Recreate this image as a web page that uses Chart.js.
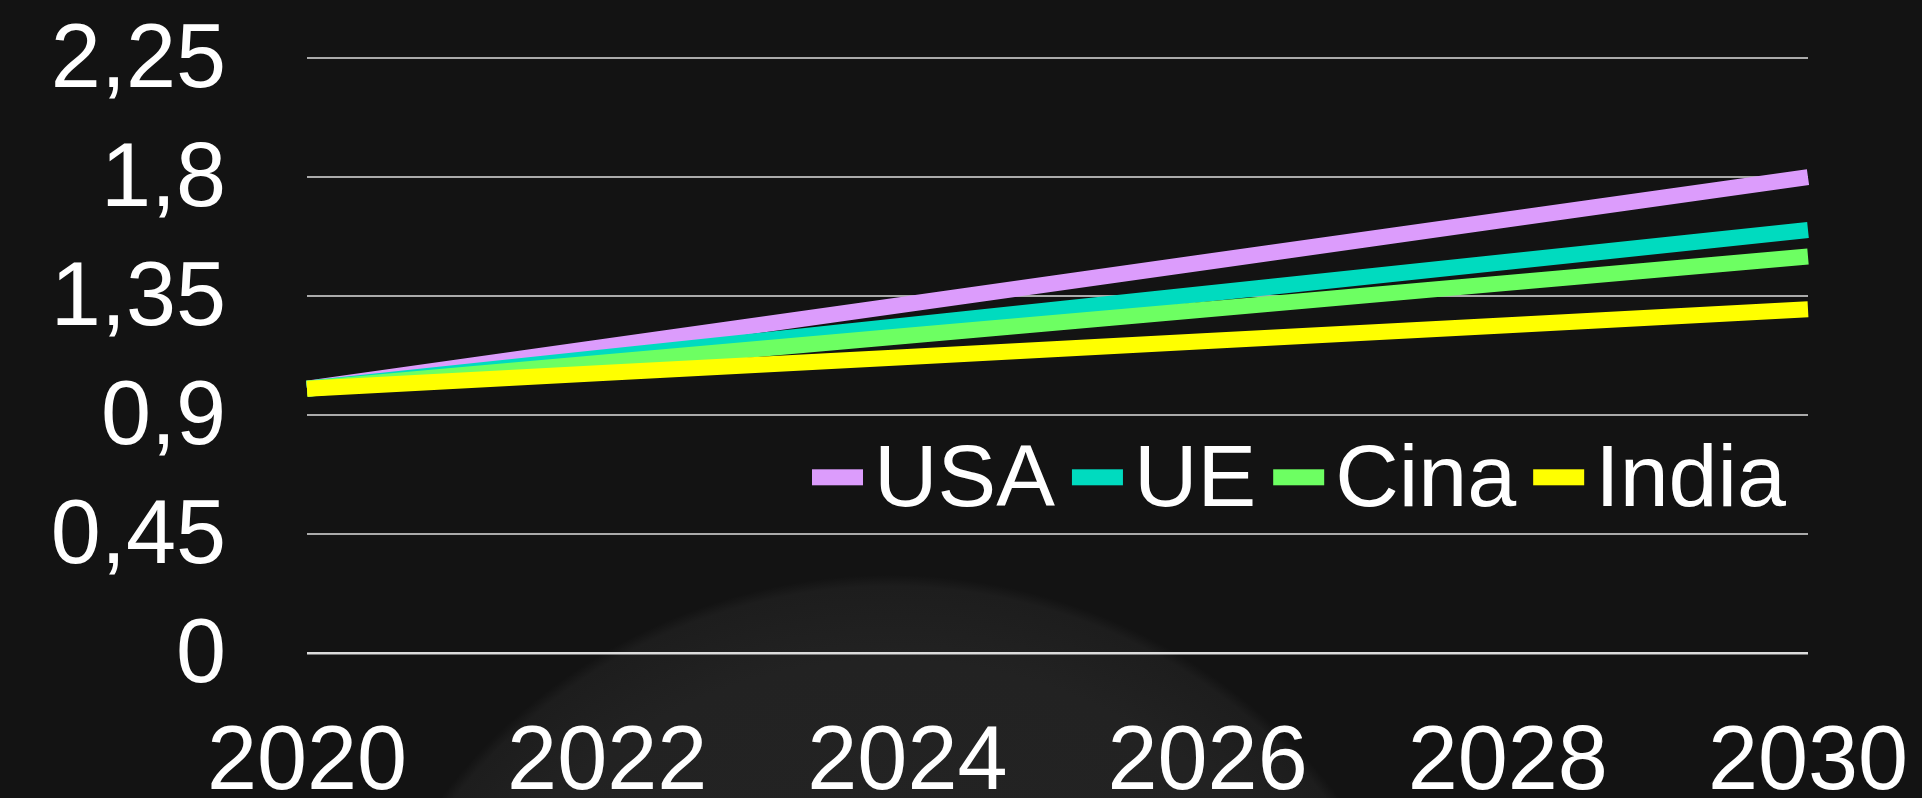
<!DOCTYPE html>
<html>
<head>
<meta charset="utf-8">
<script src="https://cdn.jsdelivr.net/npm/chart.js@4.4.1/dist/chart.umd.min.js"></script>
<style>
    html, body { margin: 0; padding: 0; }
    body {
        width: 1922px;
        height: 798px;
        overflow: hidden;
        background: radial-gradient(circle 565px at 890px 1140px, #252525 0%, #222222 85%, #1d1d1d 98%, rgba(19, 19, 19, 0) 100%), #131313;
    }
    canvas { display: block; }
</style>
</head>
<body>
<canvas id="myChart" width="1922" height="798"></canvas>
<script>
const years = ['2020', '2022', '2024', '2026', '2028', '2030'];
const usa   = [1.0, 1.16, 1.32, 1.48, 1.64, 1.8];
const ue    = [1.0, 1.12, 1.24, 1.36, 1.48, 1.6];
const cina  = [1.0, 1.1, 1.2, 1.3, 1.4, 1.5];
const india = [1.0, 1.06, 1.12, 1.18, 1.24, 1.3];
const yTickLabels = ['0', '0,45', '0,9', '1,35', '1,8', '2,25'];

const FONT = '"Liberation Sans", Arial, sans-serif';
const FONT_SIZE = 90;
Chart.defaults.font.family = FONT;
Chart.defaults.color = '#ffffff';

// legend drawn inside the plot, right side (like the original)
const inlineLegend = {
    id: 'inlineLegend',
    afterDraw(chart) {
        const ctx = chart.ctx;
        const area = chart.chartArea;
        const items = chart.data.datasets;
        ctx.save();
        ctx.font = '88px ' + FONT;
        ctx.textBaseline = 'alphabetic';
        let total = 0;
        items.forEach(ds => {
            total += 51 + 11 + ctx.measureText(ds.label).width;
        });
        total += 17 * (items.length - 1);
        let x = area.right - 22 - total;
        const baseline = area.bottom - 147;
        items.forEach(ds => {
            ctx.fillStyle = ds.borderColor;
            ctx.fillRect(x, baseline - 37, 51, 16);
            x += 62;
            ctx.fillStyle = '#ffffff';
            ctx.fillText(ds.label, x, baseline);
            x += ctx.measureText(ds.label).width + 17;
        });
        ctx.restore();
    }
};

const lineStyle = {
    borderWidth: 16,
    pointRadius: 0,
    tension: 0,
    fill: false,
    borderCapStyle: 'butt'
};

new Chart(document.getElementById('myChart').getContext('2d'), {
    type: 'line',
    plugins: [inlineLegend],
    data: {
        labels: years,
        datasets: [
            { label: 'USA', data: usa, borderColor: '#dc9cfc', backgroundColor: '#dc9cfc', order: 4, ...lineStyle },
            { label: 'UE', data: ue, borderColor: '#00dbbf', backgroundColor: '#00dbbf', order: 3, ...lineStyle },
            { label: 'Cina', data: cina, borderColor: '#6dff62', backgroundColor: '#6dff62', order: 2, ...lineStyle },
            { label: 'India', data: india, borderColor: '#ffff00', backgroundColor: '#ffff00', order: 1, ...lineStyle }
        ]
    },
    options: {
        responsive: false,
        animation: false,
        layout: {
            padding: { top: 58, right: 114, bottom: 0, left: 0 }
        },
        scales: {
            x: {
                offset: false,
                grid: { display: false, drawTicks: false },
                border: { display: false },
                ticks: {
                    autoSkip: false,
                    maxRotation: 0,
                    padding: 57,
                    color: '#ffffff',
                    font: { size: FONT_SIZE }
                },
                afterFit: (scale) => {
                    scale.height = 144.7;
                    scale.paddingLeft = 0;
                    scale.paddingRight = 0;
                }
            },
            y: {
                min: 0,
                max: 2.25,
                grid: {
                    drawTicks: false,
                    color: (c) => c.index === 0 ? '#dcdcdc' : '#ababab',
                    lineWidth: (c) => c.index === 0 ? 2.5 : 2
                },
                border: { display: false },
                ticks: {
                    autoSkip: false,
                    stepSize: 0.45,
                    padding: 81,
                    labelOffset: 4,
                    color: '#ffffff',
                    font: { size: FONT_SIZE },
                    callback: (value, index) => yTickLabels[index]
                },
                afterFit: (scale) => {
                    scale.width = 307;
                    scale.paddingTop = 0;
                    scale.paddingBottom = 0;
                }
            }
        },
        plugins: {
            legend: { display: false },
            tooltip: { enabled: false }
        }
    }
});
</script>
</body>
</html>
